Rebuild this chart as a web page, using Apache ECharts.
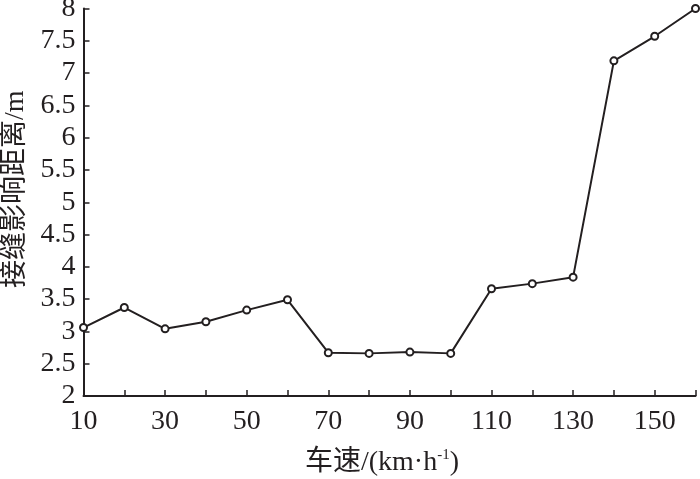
<!DOCTYPE html>
<html>
<head>
<meta charset="utf-8">
<script src="https://cdn.jsdelivr.net/npm/echarts@6/dist/echarts.min.js"></script>
<style>
  html, body { margin: 0; padding: 0; background: #fff; }
  #chart { width: 700px; height: 479px; }
</style>
</head>
<body>
<div id="chart"></div>
<script>
// 车速 km/h
const speeds = [10, 20, 30, 40, 50, 60, 70, 80, 90, 100, 110, 120, 130, 140, 150, 160]
// 接缝影响距离 m
const distances = [3.06, 3.37, 3.04, 3.15, 3.33, 3.49, 2.67, 2.66, 2.68, 2.66, 3.66, 3.74, 3.84, 7.19, 7.57, 8.0]
const xLabels = [10, 30, 50, 70, 90, 110, 130, 150]

const ink = '#231f20'
const serif = "'Liberation Serif', 'Noto Sans CJK SC', serif"

const chart = echarts.init(document.getElementById('chart'))

chart.setOption({
  backgroundColor: '#fff',
  animation: false,
  grid: { left: 83.5, right: 4.5, top: 8.5, bottom: 83, outerBoundsMode: 'none', containLabel: false },
  xAxis: {
    type: 'value',
    min: 10,
    max: 160,
    interval: 10,
    name: '车速/(km·h{sup|-1})',
    nameLocation: 'middle',
    nameGap: 52,
    nameTextStyle: {
      color: ink,
      fontFamily: serif,
      fontSize: 28,
      padding: [0, 15, 0, 0],
      rich: {
        sup: { fontSize: 15, verticalAlign: 'top', padding: [0, 0, 14, 0], color: ink, fontFamily: serif }
      }
    },
    axisLine: { lineStyle: { color: ink, width: 2 } },
    axisTick: { inside: true, length: 6, lineStyle: { color: ink, width: 1.5 } },
    splitLine: { show: false },
    axisLabel: {
      color: ink,
      fontFamily: serif,
      fontSize: 28,
      margin: 12,
      formatter: (v) => (xLabels.includes(v) ? String(v) : '')
    }
  },
  yAxis: {
    type: 'value',
    min: 2,
    max: 8,
    interval: 0.5,
    name: '接缝影响距离/m',
    nameLocation: 'middle',
    nameGap: 50,
    nameTextStyle: { color: ink, fontFamily: serif, fontSize: 28, padding: [0, 0, 0, 26] },
    axisLine: { show: true, lineStyle: { color: ink, width: 2 } },
    axisTick: { show: true, inside: true, length: 6, lineStyle: { color: ink, width: 1.5 } },
    splitLine: { show: false },
    axisLabel: { color: ink, fontFamily: serif, fontSize: 28, margin: 8 }
  },
  series: [
    {
      type: 'line',
      data: speeds.map((s, i) => [s, distances[i]]),
      symbol: 'emptyCircle',
      symbolSize: 7,
      lineStyle: { color: ink, width: 2 },
      itemStyle: { color: ink, borderColor: ink, borderWidth: 1.8 }
    }
  ]
})
</script>
</body>
</html>
